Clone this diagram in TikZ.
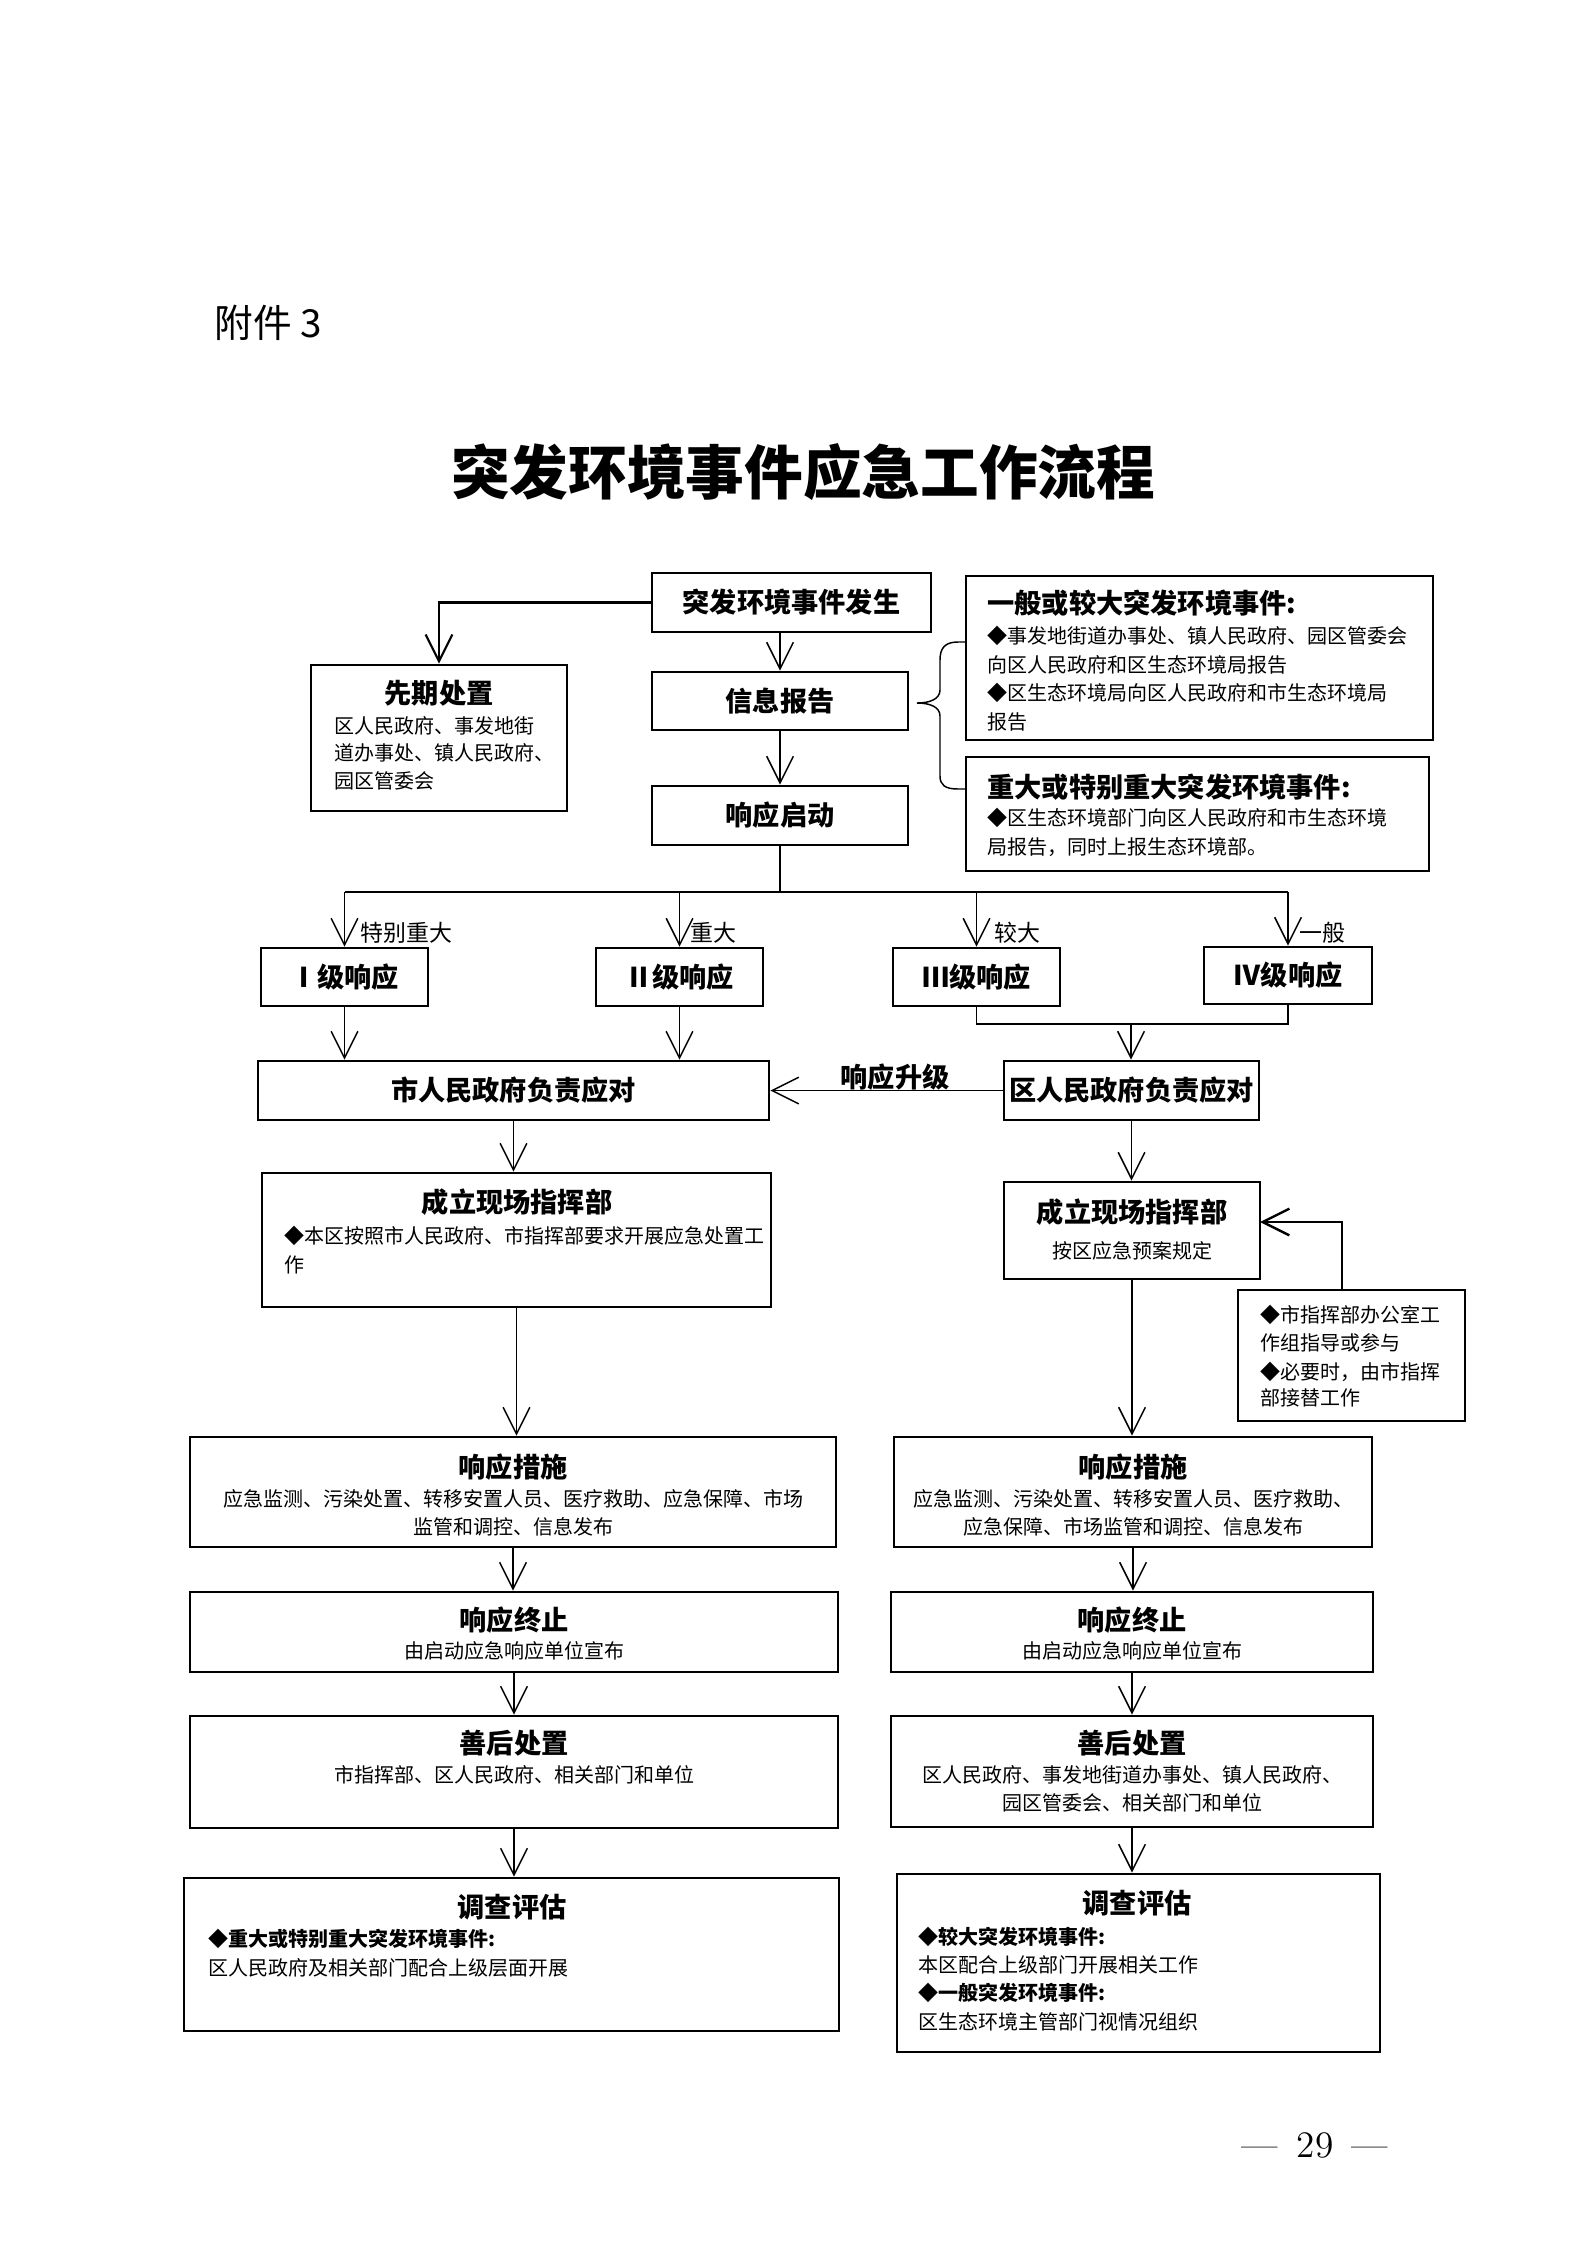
\documentclass[tikz,border=0pt]{standalone}
\usepackage{fontspec}
\newfontfamily\cjk{Noto Sans CJK SC}
\usetikzlibrary{arrows.meta,fit}
\newcommand\bxx[3]{\node[box,fit={#2 #3}] (#1) {};}
\tikzset{
  box/.style={draw, line width=1.1pt, inner sep=0pt},
  conn/.style={line width=0.55pt},
  arr/.style={conn, -{Straight Barb[length=10pt,width=10pt]}},
  ttl/.style={font=\cjk\bfseries\fontsize{10.2pt}{12pt}\selectfont, inner sep=0pt},
  txt/.style={font=\cjk\fontsize{7.5pt}{9pt}\selectfont, inner sep=0pt},
  txtb/.style={font=\cjk\bfseries\fontsize{7.5pt}{9pt}\selectfont, inner sep=0pt},
  lab/.style={font=\cjk\fontsize{8.6pt}{10pt}\selectfont, inner sep=0pt, anchor=west},
  lt/.style={anchor=west},
}
\begin{document}
\begin{tikzpicture}[x=0.375pt,y=-0.375pt]
\useasboundingbox (0,0) rectangle (1587,2245);

% header
\node[anchor=west, inner sep=0pt, font=\cjk\fontsize{14.5pt}{17pt}\selectfont] (fj) at (214,323) {附件 3};
\node[inner sep=0pt, font=\cjk\bfseries\fontsize{22pt}{26pt}\selectfont] (title) at (803,472) {突发环境事件应急工作流程};

% top boxes
\bxx{tf}{(652,573)}{(931,632)}
\bxx{xx}{(652,672)}{(908,730)}
\bxx{qd}{(652,786)}{(908,845)}
\bxx{xq}{(311,665)}{(567,811)}
\bxx{yb}{(966,576)}{(1433,740)}
\bxx{zd}{(966,757)}{(1429,871)}

\node[ttl] (ttf) at (tf) {突发环境事件发生};
\node[ttl] (txx) at (xx) {信息报告};
\node[ttl] (tqd) at (qd) {响应启动};
\node[ttl] (txq) at (439,693) {先期处置};
\node[txt,lt] (txq1) at (334,726) {区人民政府、事发地街};
\node[txt,lt] (txq2) at (334,753) {道办事处、镇人民政府、};
\node[txt,lt] (txq3) at (334,781) {园区管委会};

\node[ttl,lt] (tyb) at (987,603) {一般或较大突发环境事件:};
\node[txt,lt] (tyb1) at (987,636) {◆事发地街道办事处、镇人民政府、园区管委会};
\node[txt,lt] (tyb2) at (987,665) {向区人民政府和区生态环境局报告};
\node[txt,lt] (tyb3) at (987,693) {◆区生态环境局向区人民政府和市生态环境局};
\node[txt,lt] (tyb4) at (987,722) {报告};

\node[ttl,lt] (tzd) at (987,787) {重大或特别重大突发环境事件:};
\node[txt,lt] (tzd1) at (987,818) {◆区生态环境部门向区人民政府和市生态环境};
\node[txt,lt] (tzd2) at (987,847) {局报告，同时上报生态环境部。};

% top connectors
\draw[arr, line width=0.8pt] (tf.west) -| (xq.north);
\draw[arr] (xx.north |- tf.south) -- (xx.north);
\draw[arr] (xx.south) -- (qd.north);
\draw[conn] (966,642) -- (958,642) .. controls (945,642) and (940,648) .. (940,660)
  -- (940,690) .. controls (940,699) and (930,703) .. (917,703)
  .. controls (930,703) and (940,707) .. (940,716)
  -- (940,776) .. controls (940,785) and (945,789) .. (958,789) -- (966,789);

% levels
\coordinate (bus) at (780,892);
\bxx{l1}{(261,948)}{(428,1006)}
\bxx{l2}{(596,948)}{(763,1006)}
\bxx{l3}{(893,948)}{(1060,1006)}
\bxx{l4}{(1204,947)}{(1372,1004)}
\node[ttl] (tl1) at (l1) {Ⅰ级响应};
\node[ttl] (tl2) at (l2) {Ⅱ级响应};
\node[ttl] (tl3) at (l3) {Ⅲ级响应};
\node[ttl] (tl4) at (l4) {Ⅳ级响应};

\draw[conn] (qd.south) -- (bus);
\draw[conn] (l1.north |- bus) -- (l4.north |- bus);
\draw[arr] (l1.north |- bus) -- (l1.north);
\draw[arr] (l2.north |- bus) -- (l2.north);
\draw[arr] (l3.north |- bus) -- (l3.north);
\draw[arr] (l4.north |- bus) -- (l4.north);
\node[lab] (lb1) at (360,933) {特别重大};
\node[lab] (lb2) at (690,933) {重大};
\node[lab] (lb3) at (994,933) {较大};
\node[lab] (lb4) at (1299,933) {一般};

\bxx{sz}{(258,1061)}{(769,1120)}
\bxx{qz}{(1004,1061)}{(1259,1120)}
\node[ttl] (tsz) at (sz) {市人民政府负责应对};
\node[ttl] (tqz) at (qz) {区人民政府负责应对};

\draw[arr] (l1.south) -- (l1.south |- sz.north);
\draw[arr] (l2.south) -- (l2.south |- sz.north);
\coordinate (mg) at (1131,1024);
\draw[conn] (l3.south) |- (l4.south |- mg) -- (l4.south);
\draw[arr] (mg) -- (mg |- qz.north);
\draw[arr] (qz.west) -- (sz.east);
\node[ttl] (tsj) at (895,1077) {响应升级};

% command posts
\bxx{cL}{(262,1173)}{(771,1307)}
\bxx{cR}{(1004,1182)}{(1260,1279)}
\bxx{nt}{(1238,1290)}{(1465,1421)}
\node[ttl] (tcL) at (517,1202) {成立现场指挥部};
\node[txt,lt] (tcL1) at (284,1236) {◆本区按照市人民政府、市指挥部要求开展应急处置工};
\node[txt,lt] (tcL2) at (284,1265) {作};
\node[ttl] (tcR) at (1132,1212) {成立现场指挥部};
\node[txt] (tcR1) at (1132,1251) {按区应急预案规定};
\node[txt,lt] (tnt1) at (1260,1315) {◆市指挥部办公室工};
\node[txt,lt] (tnt2) at (1260,1343) {作组指导或参与};
\node[txt,lt] (tnt3) at (1260,1372) {◆必要时，由市指挥};
\node[txt,lt] (tnt4) at (1260,1398) {部接替工作};

\draw[arr] (sz.south) -- (sz.south |- cL.north);
\draw[arr] (qz.south) -- (qz.south |- cR.north);
\coordinate (fb) at (1260,1222);
\coordinate (fs) at (1342,1290);
\draw[arr, line width=0.9pt] (fs) |- (fb);

% measures
\bxx{mL}{(190,1437)}{(836,1547)}
\bxx{mR}{(894,1437)}{(1372,1547)}
\node[ttl] (tmL) at (513,1467) {响应措施};
\node[txt] (tmL1) at (513,1499) {应急监测、污染处置、转移安置人员、医疗救助、应急保障、市场};
\node[txt] (tmL2) at (513,1527) {监管和调控、信息发布};
\node[ttl] (tmR) at (1133,1467) {响应措施};
\node[txt] (tmR1) at (1133,1499) {应急监测、污染处置、转移安置人员、医疗救助、};
\node[txt] (tmR2) at (1133,1527) {应急保障、市场监管和调控、信息发布};
\draw[arr] (cL.south) -- (cL.south |- mL.north);
\draw[arr] (cR.south) -- (cR.south |- mR.north);

% termination
\bxx{eL}{(190,1592)}{(838,1672)}
\bxx{eR}{(891,1592)}{(1373,1672)}
\node[ttl] (teL) at (514,1620) {响应终止};
\node[txt] (teL1) at (514,1651) {由启动应急响应单位宣布};
\node[ttl] (teR) at (1132,1620) {响应终止};
\node[txt] (teR1) at (1132,1651) {由启动应急响应单位宣布};
\draw[arr] (mL.south) -- (mL.south |- eL.north);
\draw[arr] (mR.south) -- (mR.south |- eR.north);

% aftermath
\bxx{sL}{(190,1716)}{(838,1828)}
\bxx{sR}{(891,1716)}{(1373,1827)}
\node[ttl] (tsL) at (514,1743) {善后处置};
\node[txt] (tsL1) at (514,1775) {市指挥部、区人民政府、相关部门和单位};
\node[ttl] (tsR) at (1132,1743) {善后处置};
\node[txt] (tsR1) at (1132,1775) {区人民政府、事发地街道办事处、镇人民政府、};
\node[txt] (tsR2) at (1132,1803) {园区管委会、相关部门和单位};
\draw[arr] (eL.south) -- (eL.south |- sL.north);
\draw[arr] (eR.south) -- (eR.south |- sR.north);

% investigation
\bxx{dL}{(184,1878)}{(839,2031)}
\bxx{dR}{(897,1874)}{(1380,2052)}
\node[ttl] (tdL) at (512,1907) {调查评估};
\node[txtb,lt] (tdL1) at (208,1939) {◆重大或特别重大突发环境事件:};
\node[txt,lt] (tdL2) at (208,1968) {区人民政府及相关部门配合上级层面开展};
\node[ttl] (tdR) at (1137,1903) {调查评估};
\node[txtb,lt] (tdR1) at (918,1937) {◆较大突发环境事件:};
\node[txt,lt] (tdR2) at (918,1965) {本区配合上级部门开展相关工作};
\node[txtb,lt] (tdR3) at (918,1993) {◆一般突发环境事件:};
\node[txt,lt] (tdR4) at (918,2022) {区生态环境主管部门视情况组织};
\draw[arr] (sL.south) -- (sL.south |- dL.north);
\draw[arr] (sR.south) -- (sR.south |- dR.north);

% page number
\node[inner sep=0pt, font=\fontsize{14pt}{16pt}\selectfont] (pg) at (1315,2145) {—\hspace{7pt}29\hspace{7pt}—};
\end{tikzpicture}
\end{document}
